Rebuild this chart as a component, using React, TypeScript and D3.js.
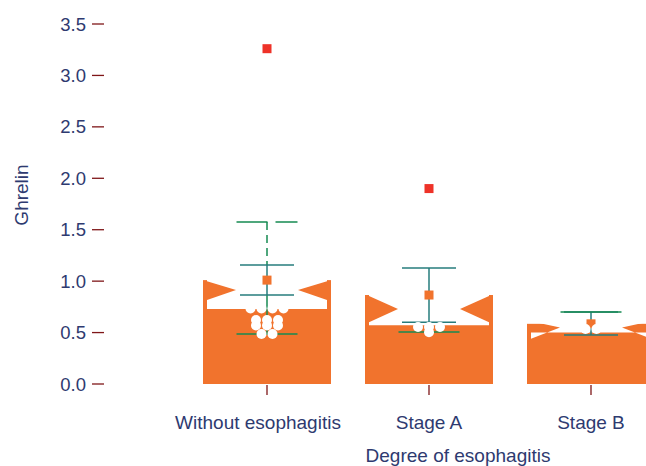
import React from "react";
import * as d3 from "d3";

const categories = ["Without esophagitis", "Stage A", "Stage B"];
const means = [1.01, 0.865, 0.585];
const seLow = [0.865, 0.6, 0.476];
const seHigh = [1.157, 1.128, 0.7];
const whiskerLow = [0.486, 0.505, NaN];
const whiskerHigh = [1.575, NaN, 0.7];
const q1 = [0.73, 0.57, 0.5];
const notchLow = [0.817, 0.6, 0.44];
const medians = [0.914, 0.73, 0.55];
const notchHigh = [1.0, 0.855, 0.61];
const q3 = [1.18, 1.0, 0.68];
const outliers = [[3.26], [1.9], []];
const points = [
  [0.734, 0.734, 0.734, 0.734, 0.622, 0.622, 0.622, 0.569, 0.569, 0.569, 0.486, 0.486],
  [0.554, 0.554, 0.554, 0.503],
  [0.535, 0.535],
];
const yTicks = [0, 0.5, 1.0, 1.5, 2.0, 2.5, 3.0, 3.5];

const W = 646;
const H = 466;
const ORANGE = "#f1732d";
const RED = "#ee3228";
const NAVY = "#2e3a70";
const TICK = "#7f1618";
const GREEN = "#168a52";
const TEAL = "#267c7c";
const FONT = "'Liberation Sans', Arial, sans-serif";

export default function App() {
  const y = d3.scaleLinear().domain([0, 3.5]).range([384, 24]);
  const x = d3.scalePoint<string>().domain(categories).range([267, 591]).padding(0);
  const barW = 128;
  const boxHalf = 60;
  const indent = 29;
  const dotR = 5;
  const dotGap = 11;
  const sq = 9;

  const dotLayout = (vals: number[]) => {
    const groups = d3.group(vals, (v) => v);
    const out: { v: number; dx: number }[] = [];
    groups.forEach((arr, v) => {
      arr.forEach((_, i) => out.push({ v, dx: (i - (arr.length - 1) / 2) * dotGap }));
    });
    return out;
  };

  return (
    <svg
      width={W}
      height={H}
      style={{ position: "absolute", left: 0, top: 0, overflow: "hidden", background: "#fff" }}
    >
      {/* y axis */}
      {yTicks.map((t) => (
        <g key={t}>
          <line x1={92} x2={104} y1={y(t)} y2={y(t)} stroke={TICK} strokeWidth={1.3} />
          <text
            x={86}
            y={y(t) + 6.6}
            textAnchor="end"
            fontFamily={FONT}
            fontSize={18.5}
            fill={NAVY}
          >
            {t.toFixed(1)}
          </text>
        </g>
      ))}
      <text
        transform={`translate(28,195) rotate(-90)`}
        textAnchor="middle"
        fontFamily={FONT}
        fontSize={19}
        fill={NAVY}
      >
        Ghrelin
      </text>

      {/* bars */}
      {categories.map((c, i) => (
        <rect
          key={c}
          x={(x(c) as number) - barW / 2}
          y={y(means[i])}
          width={barW}
          height={y(0) - y(means[i])}
          fill={ORANGE}
        />
      ))}

      {/* notched boxes */}
      {categories.map((c, i) => {
        const cx = x(c) as number;
        const L = cx - boxHalf;
        const R = cx + boxHalf;
        const pts: [number, number][] = [
          [L, y(q3[i])],
          [L, y(notchHigh[i])],
          [L + indent, y(medians[i])],
          [L, y(notchLow[i])],
          [L, y(q1[i])],
          [R, y(q1[i])],
          [R, y(notchLow[i])],
          [R - indent, y(medians[i])],
          [R, y(notchHigh[i])],
          [R, y(q3[i])],
        ];
        return (
          <path
            key={c}
            d={d3.line()(pts) + "Z"}
            fill="#ffffff"
            fillRule="nonzero"
            stroke="none"
          />
        );
      })}

      {/* error bars */}
      {categories.map((c, i) => {
        const cx = x(c) as number;
        const els: React.ReactNode[] = [];
        if (!isNaN(whiskerLow[i])) {
          els.push(
            <line key="wl" x1={cx} x2={cx} y1={y(whiskerLow[i])} y2={y(seLow[i])} stroke={GREEN} strokeWidth={1.5} />
          );
        }
        if (!isNaN(whiskerHigh[i]) && whiskerHigh[i] > seHigh[i]) {
          els.push(
            <line key="wh" x1={cx} x2={cx} y1={y(whiskerHigh[i])} y2={y(seHigh[i])} stroke={GREEN} strokeWidth={1.5} strokeDasharray="8,5" />
          );
        }
        els.push(
          <line key="se" x1={cx} x2={cx} y1={y(seLow[i])} y2={y(seHigh[i])} stroke={TEAL} strokeWidth={1.5} />
        );
        els.push(
          <line key="sel" x1={cx - 27} x2={cx + 27} y1={y(seLow[i])} y2={y(seLow[i])} stroke={TEAL} strokeWidth={1.6} />,
          <line key="seh" x1={cx - 27} x2={cx + 27} y1={y(seHigh[i])} y2={y(seHigh[i])} stroke={TEAL} strokeWidth={1.6} />
        );
        if (!isNaN(whiskerLow[i])) {
          els.push(
            <line key="cl" x1={cx - 30.5} x2={cx + 30.5} y1={y(whiskerLow[i])} y2={y(whiskerLow[i])} stroke={GREEN} strokeWidth={1.6} />
          );
        }
        if (!isNaN(whiskerHigh[i])) {
          const dashed = whiskerHigh[i] > seHigh[i];
          els.push(
            <line
              key="ch"
              x1={cx - 30.5}
              x2={cx + 30.5}
              y1={y(whiskerHigh[i])}
              y2={y(whiskerHigh[i])}
              stroke={GREEN}
              strokeWidth={1.6}
              strokeDasharray={dashed ? "31,8" : undefined}
            />
          );
        }
        return <g key={c}>{els}</g>;
      })}

      {/* mean squares */}
      {categories.map((c, i) => (
        <rect
          key={c}
          x={(x(c) as number) - sq / 2}
          y={y(means[i]) - sq / 2}
          width={sq}
          height={sq}
          fill={ORANGE}
        />
      ))}

      {/* data points */}
      {categories.map((c, i) => (
        <g key={c}>
          {dotLayout(points[i]).map((p, j) => (
            <circle key={j} cx={(x(c) as number) + p.dx} cy={y(p.v)} r={dotR} fill="#ffffff" />
          ))}
        </g>
      ))}

      {/* outliers */}
      {categories.map((c, i) => (
        <g key={c}>
          {outliers[i].map((v, j) => (
            <rect key={j} x={(x(c) as number) - sq / 2} y={y(v) - sq / 2} width={sq} height={sq} fill={RED} />
          ))}
        </g>
      ))}

      {/* x axis */}
      {categories.map((c) => (
        <g key={c}>
          <line x1={x(c)} x2={x(c)} y1={385} y2={395} stroke={TICK} strokeWidth={1.3} />
          <text x={c === categories[0] ? (x(c) as number) - 9 : x(c)} y={429} textAnchor="middle" fontFamily={FONT} fontSize={19} fill={NAVY}>
            {c}
          </text>
        </g>
      ))}
      <text x={458} y={462} textAnchor="middle" fontFamily={FONT} fontSize={19} fill={NAVY}>
        Degree of esophagitis
      </text>
    </svg>
  );
}
